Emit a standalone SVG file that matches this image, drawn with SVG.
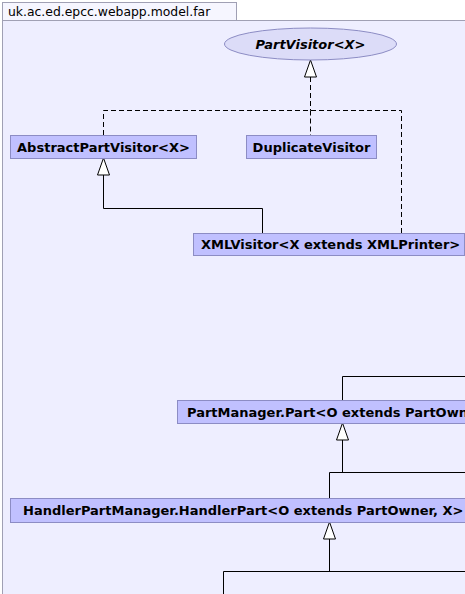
<svg xmlns="http://www.w3.org/2000/svg" width="465" height="594" viewBox="0 0 465 594">
<style>
.bg{fill:#eeeeff;stroke:#a0a0b4;stroke-width:1}
.tab{fill:#f6f6ff;stroke:#a0a0b4;stroke-width:1}
.box{fill:#c0c0ff;stroke:#8c8cc4;stroke-width:1}
.iface{fill:#dcdcf8;stroke:#8c8cc4;stroke-width:1}
.lbl{font-family:"DejaVu Sans",sans-serif;font-size:13px;font-weight:bold;fill:#000}
.ital{font-style:italic}
.pkg{font-family:"DejaVu Sans",sans-serif;font-size:12.4px;fill:#000}
.solid{fill:none;stroke:#000;stroke-width:1}
.dash{fill:none;stroke:#000;stroke-width:1;stroke-dasharray:5,3}
.tri{fill:#fff;stroke:#000;stroke-width:1}
</style>
<rect x="0" y="0" width="465" height="594" fill="#ffffff"/>
<g id="package">
<rect class="bg" x="2.5" y="20.5" width="470" height="580"/>
<rect class="tab" x="2.5" y="2.5" width="234" height="18"/>
<text class="pkg" x="8" y="16">uk.ac.ed.epcc.webapp.model.far</text>
</g>
<g id="connectors">
<path class="dash" d="M310.5,77 V110.5 M103.5,135 V110.5 H401.5 V233 M310.5,110.5 V135"/>
<polygon class="tri" points="310.5,60 304.5,77 316.5,77"/>
<path class="solid" d="M103.5,175 V208.5 H262.5 V233"/>
<polygon class="tri" points="103.5,158 97.5,175 109.5,175"/>
<path class="solid" d="M342.5,400 V376.5 H470"/>
<path class="solid" d="M342.5,440 V472.5 M329.5,498 V472.5 H470"/>
<polygon class="tri" points="342.5,423 336.5,440 348.5,440"/>
<path class="solid" d="M329.5,539 V571.5 M223.5,600 V571.5 H470"/>
<polygon class="tri" points="329.5,522 323.5,539 335.5,539"/>
</g>
<g id="PartVisitor">
<ellipse class="iface" cx="310.5" cy="44" rx="86" ry="16"/>
<text class="lbl ital" x="310.5" y="48.5" text-anchor="middle">PartVisitor&lt;X&gt;</text>
</g>
<g id="AbstractPartVisitor">
<rect class="box" x="10.5" y="135.5" width="186" height="23"/>
<text class="lbl" x="103.5" y="151.5" text-anchor="middle">AbstractPartVisitor&lt;X&gt;</text>
</g>
<g id="DuplicateVisitor">
<rect class="box" x="246.5" y="135.5" width="130" height="23"/>
<text class="lbl" x="311.5" y="151.5" text-anchor="middle">DuplicateVisitor</text>
</g>
<g id="XMLVisitor">
<rect class="box" x="193.5" y="233.5" width="271" height="22"/>
<text class="lbl" x="201" y="249">XMLVisitor&lt;X extends XMLPrinter&gt;</text>
</g>
<g id="PartManagerPart">
<rect class="box" x="177.5" y="400.5" width="340" height="23"/>
<text class="lbl" x="187" y="416.5">PartManager.Part&lt;O extends PartOwner, X&gt;</text>
</g>
<g id="HandlerPart">
<rect class="box" x="10.5" y="498.5" width="520" height="24"/>
<text class="lbl" x="23" y="515">HandlerPartManager.HandlerPart&lt;O extends PartOwner, X&gt;</text>
</g>
</svg>
